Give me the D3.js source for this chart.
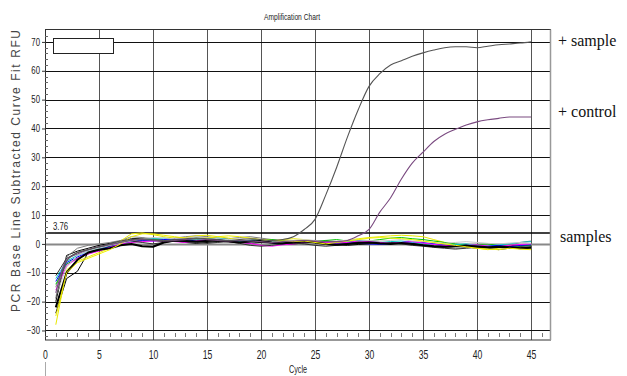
<!DOCTYPE html>
<html><head><meta charset="utf-8">
<script src="https://cdn.jsdelivr.net/npm/d3@7"></script>
<style>
html,body{margin:0;padding:0;background:#fff;}
svg{display:block;}
.nar{font-family:"Liberation Sans Narrow","Arial Narrow","Liberation Sans",sans-serif;}
</style></head><body>
<svg id="c" width="627" height="376"></svg>
<script>
// ---- data ----
const title = "Amplification Chart";
const xLabel = "Cycle";
const yLabel = "PCR Base Line Subtracted Curve Fit RFU";
const xTicks = [0,5,10,15,20,25,30,35,40,45];
const yTicks = [-30,-20,-10,0,10,20,30,40,50,60,70];
const threshold = 3.76;
const cycles = d3.range(1,46);

const positiveSample = [-19,-6,-3,-2,-1,0,1,1.5,1.8,1.5,1.2,1.5,1.8,2.0,1.8,1.5,1.2,1.5,1.8,1.5,1.2,
  1.5,2.5,5,8.5,17,26.5,37,46.5,54.6,59,62,63.5,65,66.2,67.2,68,68.3,68.3,68,68.5,69,69.3,69.6,70];
const positiveControl = [-17,-5.5,-3.5,-2,-1,-0.3,0.5,1.2,1.5,1.2,1.0,1.2,1.5,1.8,1.5,1.2,1.0,1.2,1.0,0.8,0.5,0.8,1.0,1.2,1.0,0.8,0.8,
  1.2,2.8,5,11,16,22.5,28,31.8,35.5,38,39.7,41.2,42.3,43,43.5,44,44,44];

const sampleColors = ["#000000","#000000","#808080","#e8e800","#00c000","#00c8c8","#0000ff","#ff00ff","#303030","#c8c8c8","#000000","#f0f000"];
const sampleWidths = [1,1,1,1,1,1,1,1,1,1,2,1];
const s1 = [-20,-4,-2.5,-1.5,-0.5,0.2,1.0,1.8,2.0,1.5,1.2,1.4,1.6,1.8,2.0,1.5,1.2,1.0,1.3,1.5,1.2,1.0,0.8,1.0,1.2,1.0,0.5,0.3,0.6,0.8,0.5,0.3,0.5,0.2,-0.2,-0.5,-0.8,-0.5,-0.3,-0.6,-1.0,-0.8,-0.5,-0.7,-0.5];
const s2 = [-24,-12,-9.5,-3,-1.5,-0.8,0,0.8,1.5,1.2,0.8,1.0,0.5,0.2,0.5,0.8,1.0,0.6,0.2,0.5,0.3,-0.2,0.0,0.3,0.5,0.2,-0.3,-0.5,-0.2,0.0,0.3,0.5,0.2,-0.2,-0.5,-1.0,-1.2,-0.8,-1.0,-1.5,-1.2,-0.8,-1.0,-1.3,-1.0];
const s3 = [-15,-4.5,-1.5,-0.5,0,0.5,1.2,2.5,2.2,1.8,1.5,2.0,2.5,2.8,2.5,2.0,1.8,2.2,2.5,2.0,1.5,1.2,1.0,0.8,1.0,1.2,0.8,0.5,0.8,1.0,0.6,0.2,0.0,-0.3,0.0,-0.5,-1.0,-1.5,-1.2,-0.8,-1.0,-1.2,-0.5,0.5,1.0];
const s4 = [-28,-9,-6,-4.5,-3,-1.5,1.0,3.5,3.8,3.2,2.5,2.0,2.2,2.8,3.0,2.5,2.0,1.5,1.0,0.8,1.0,1.5,1.8,1.5,1.0,0.5,0.8,1.2,1.8,2.2,2.5,2.8,3.0,2.8,2.5,1.5,0.5,-0.5,-1.0,-1.5,-2.0,-1.5,-1.0,-1.5,-1.8];
const s5 = [-14,-7,-5,-3.5,-2,-1,0,0.5,1.0,1.5,1.2,1.0,1.5,2.0,1.8,1.5,1.2,1.0,0.8,1.2,1.5,1.0,0.5,0.8,1.0,1.2,1.5,1.0,0.8,1.0,1.5,2.0,2.2,1.8,1.5,1.0,0.5,0.0,-0.5,-0.2,0.0,-0.5,-1.0,-0.8,-0.5];
const s6 = [-12,-6,-4,-2.5,-1.5,-0.5,0.5,1.2,1.5,1.8,2.0,1.5,1.2,1.5,1.8,2.0,1.5,1.0,1.2,1.5,1.0,0.5,0.8,1.0,0.5,0.2,0.5,1.0,1.2,0.8,0.5,0.8,1.0,0.5,0.0,-0.3,-0.5,-0.2,0.0,-0.5,-0.8,-0.3,0.0,0.5,0.8];
const s7 = [-13,-6.5,-4.5,-3,-2,-1,0,0.8,1.2,1.0,1.5,1.8,1.5,1.0,1.2,1.5,1.0,0.5,0.8,1.0,0.5,0.0,0.5,0.8,0.5,0.0,0.2,0.5,0.3,0.0,-0.2,0.0,0.5,0.8,0.5,0.0,-0.5,-0.8,-0.5,-1.0,-0.8,-0.5,-1.0,-0.5,-0.3];
const s8 = [-16,-7.5,-5,-3.5,-2.5,-1.2,0,0.5,0.8,1.0,1.2,0.8,0.5,1.0,1.5,1.2,0.8,0.5,0.2,-0.5,-0.8,-0.3,0.0,0.5,0.8,0.5,0.3,0.5,1.0,0.8,0.5,0.2,0.5,0.8,0.3,-0.2,-0.5,-0.8,-0.5,-0.3,-0.8,-1.0,-0.5,-0.2,0.0];
const s9 = [-11,-5,-3,-2,-1,-0.5,0.5,1.0,0.5,0.0,0.5,1.0,0.8,0.5,0.2,0.5,0.8,0.2,-0.5,-0.8,-0.5,0.0,0.3,0.0,-0.5,-0.8,-0.5,0.0,0.5,0.2,0.0,0.3,0.0,-0.5,-0.8,-1.2,-1.5,-1.8,-1.5,-1.2,-1.5,-2.0,-1.5,-1.0,-1.2];
const s10 = [-18,-8,-4,-2.5,-1.5,-0.5,0.2,1.0,1.8,2.2,2.0,1.8,2.0,2.5,2.2,1.8,1.5,1.8,2.0,1.5,1.0,0.8,1.2,1.5,1.2,0.8,1.0,1.3,1.5,1.2,1.0,1.2,1.5,1.0,0.8,0.5,0.2,0.5,0.8,0.5,0.2,0.0,0.3,0.5,0.2];
const s11 = [-22,-10,-5.5,-3,-2,-1.5,-0.5,0,-0.8,-1.0,0.5,1.2,1.0,0.8,1.0,1.2,0.8,0.5,0.8,1.0,0.5,0.2,0.5,0.8,0.5,0.0,-0.3,0.0,0.3,0.5,0.2,0.0,0.3,0.0,-0.5,-0.8,-1.0,-0.8,-0.6,-0.9,-1.2,-1.0,-1.2,-1.5,-1.3];
const s12 = [-25,-10,-6.5,-5,-3.5,-2,0,2.5,3.5,3.5,3.0,2.5,2.0,1.8,2.0,2.5,2.8,2.5,2.0,1.5,1.2,1.0,0.8,1.0,0.5,0.0,0.5,1.0,1.5,2.0,2.2,2.0,1.8,1.5,1.0,0.5,0.0,-0.5,-1.0,-1.5,-1.8,-2.0,-1.5,-1.8,-2.0];
const samples = [s1,s2,s3,s4,s5,s6,s7,s8,s9,s10,s11,s12];

// ---- layout ----
const svg = d3.select("#c");
const L = 45, R = 551, T = 29.5, B = 340;
const x = d3.scaleLinear().domain([0, 46.85]).range([L, R]);
const y = d3.scaleLinear().domain([-33.3, 74.3]).range([B, T]);
const K = 0.78;

function narrowText(sel, k){
  sel.each(function(){
    const t = d3.select(this);
    const xv = +(t.attr("x") || 0);
    t.attr("x", xv / k).attr("transform", `scale(${k},1)`);
  });
}

svg.append("defs").append("clipPath").attr("id","clip")
  .append("rect").attr("x",L).attr("y",T).attr("width",R-L).attr("height",B-T);

// title
svg.append("text").attr("class","nar").attr("x",292).attr("y",20).attr("text-anchor","middle")
  .attr("font-size",9.5).attr("fill","#222").attr("textLength",56).attr("lengthAdjust","spacingAndGlyphs").text(title);

// grid
const g = svg.append("g");
g.selectAll(".vg").data(xTicks.filter(d=>d>0)).enter().append("line")
  .attr("x1",d=>Math.round(x(d))+0.5).attr("x2",d=>Math.round(x(d))+0.5).attr("y1",T).attr("y2",B)
  .attr("stroke","#555").attr("stroke-width",1);
g.selectAll(".hg").data(yTicks).enter().append("line")
  .attr("x1",L).attr("x2",R).attr("y1",d=>Math.round(y(d))+0.5).attr("y2",d=>Math.round(y(d))+0.5)
  .attr("stroke",d=>d===0?"#888":"#111").attr("stroke-width",d=>d===0?2:1);
g.append("line").attr("x1",L).attr("x2",R).attr("y1",y(threshold)).attr("y2",y(threshold))
  .attr("stroke","#000").attr("stroke-width",1.5);
svg.append("text").attr("class","nar").attr("x",53).attr("y",y(threshold)-3.5)
  .attr("font-size",10).attr("fill","#222").text(threshold.toFixed(2)).call(narrowText, K);

// frame
svg.append("rect").attr("x",L+0.5).attr("y",T).attr("width",R-L-1).attr("height",B-T)
  .attr("fill","none").attr("stroke","#333").attr("stroke-width",1);
svg.append("line").attr("x1",R-0.5).attr("x2",R-0.5).attr("y1",T).attr("y2",B).attr("stroke","#999").attr("stroke-width",1.5);

// axes
const yAxis = d3.axisLeft(y).tickValues(yTicks).tickSize(3).tickPadding(2).tickFormat(d3.format("d"));
const ya = svg.append("g").attr("transform",`translate(${L},0)`).call(yAxis);
ya.select(".domain").remove();
ya.selectAll("text").attr("class","nar").attr("font-size",10).attr("fill","#222").call(narrowText, K);
ya.selectAll("line").attr("stroke","#333");
const yMinor = d3.range(-32,74,2).filter(d=>d%10!==0);
svg.append("g").selectAll("line").data(yMinor).enter().append("line")
  .attr("x1",L).attr("x2",L+3).attr("y1",d=>Math.round(y(d))+0.5).attr("y2",d=>Math.round(y(d))+0.5)
  .attr("stroke","#666");

const xAxis = d3.axisBottom(x).tickValues(xTicks).tickSize(0).tickPadding(10).tickFormat(d3.format("d"));
const xa = svg.append("g").attr("transform",`translate(0,${B})`).call(xAxis);
xa.select(".domain").remove();
xa.selectAll("text").attr("class","nar").attr("font-size",12).attr("fill","#222").call(narrowText, 0.72);
const xMinor = d3.range(1,47).filter(d=>d%5!==0);
svg.append("g").selectAll("line").data(xMinor).enter().append("line")
  .attr("x1",d=>Math.round(x(d))+0.5).attr("x2",d=>Math.round(x(d))+0.5).attr("y1",333).attr("y2",337)
  .attr("stroke","#777");
svg.append("line").attr("x1",45.5).attr("x2",45.5).attr("y1",362).attr("y2",376).attr("stroke","#aaa");

// axis labels
svg.append("text").attr("class","nar").attr("x",298).attr("y",373).attr("text-anchor","middle")
  .attr("font-size",10.5).attr("fill","#222").attr("textLength",18).attr("lengthAdjust","spacingAndGlyphs").text(xLabel);
svg.append("text").attr("transform","translate(20,171) rotate(-90)").attr("text-anchor","middle")
  .attr("font-family","Liberation Sans, Arial, sans-serif").attr("font-size",12).attr("fill","#444")
  .attr("textLength",282).attr("lengthAdjust","spacing").text(yLabel);

// curves
const line = d3.line().x((d,i)=>x(cycles[i])).y(d=>y(d));
const smooth = d3.line().x((d,i)=>x(cycles[i])).y(d=>y(d)).curve(d3.curveMonotoneX);
const cg = svg.append("g").attr("clip-path","url(#clip)");
samples.forEach((s,i)=>{
  cg.append("path").attr("d",line(s)).attr("fill","none")
    .attr("stroke",sampleColors[i]).attr("stroke-width",sampleWidths[i]).attr("stroke-linejoin","round");
});
cg.append("path").attr("d",smooth(positiveControl)).attr("fill","none").attr("stroke","#7a4a80").attr("stroke-width",1.1);
cg.append("path").attr("d",smooth(positiveSample)).attr("fill","none").attr("stroke","#555").attr("stroke-width",1.1);

// legend box
svg.append("rect").attr("x",53.5).attr("y",38.5).attr("width",60).attr("height",15)
  .attr("fill","#fff").attr("stroke","#222").attr("stroke-width",1);

// right annotations
const ann = [["+ sample",46],["+ control",117],["samples",242]];
svg.append("g").selectAll("text").data(ann).enter().append("text")
  .attr("x",(d,i)=>i===2?560:558).attr("y",d=>d[1])
  .attr("font-family","Liberation Serif, Times New Roman, serif").attr("font-size",16).attr("fill","#111")
  .text(d=>d[0]);
</script>
</body></html>
